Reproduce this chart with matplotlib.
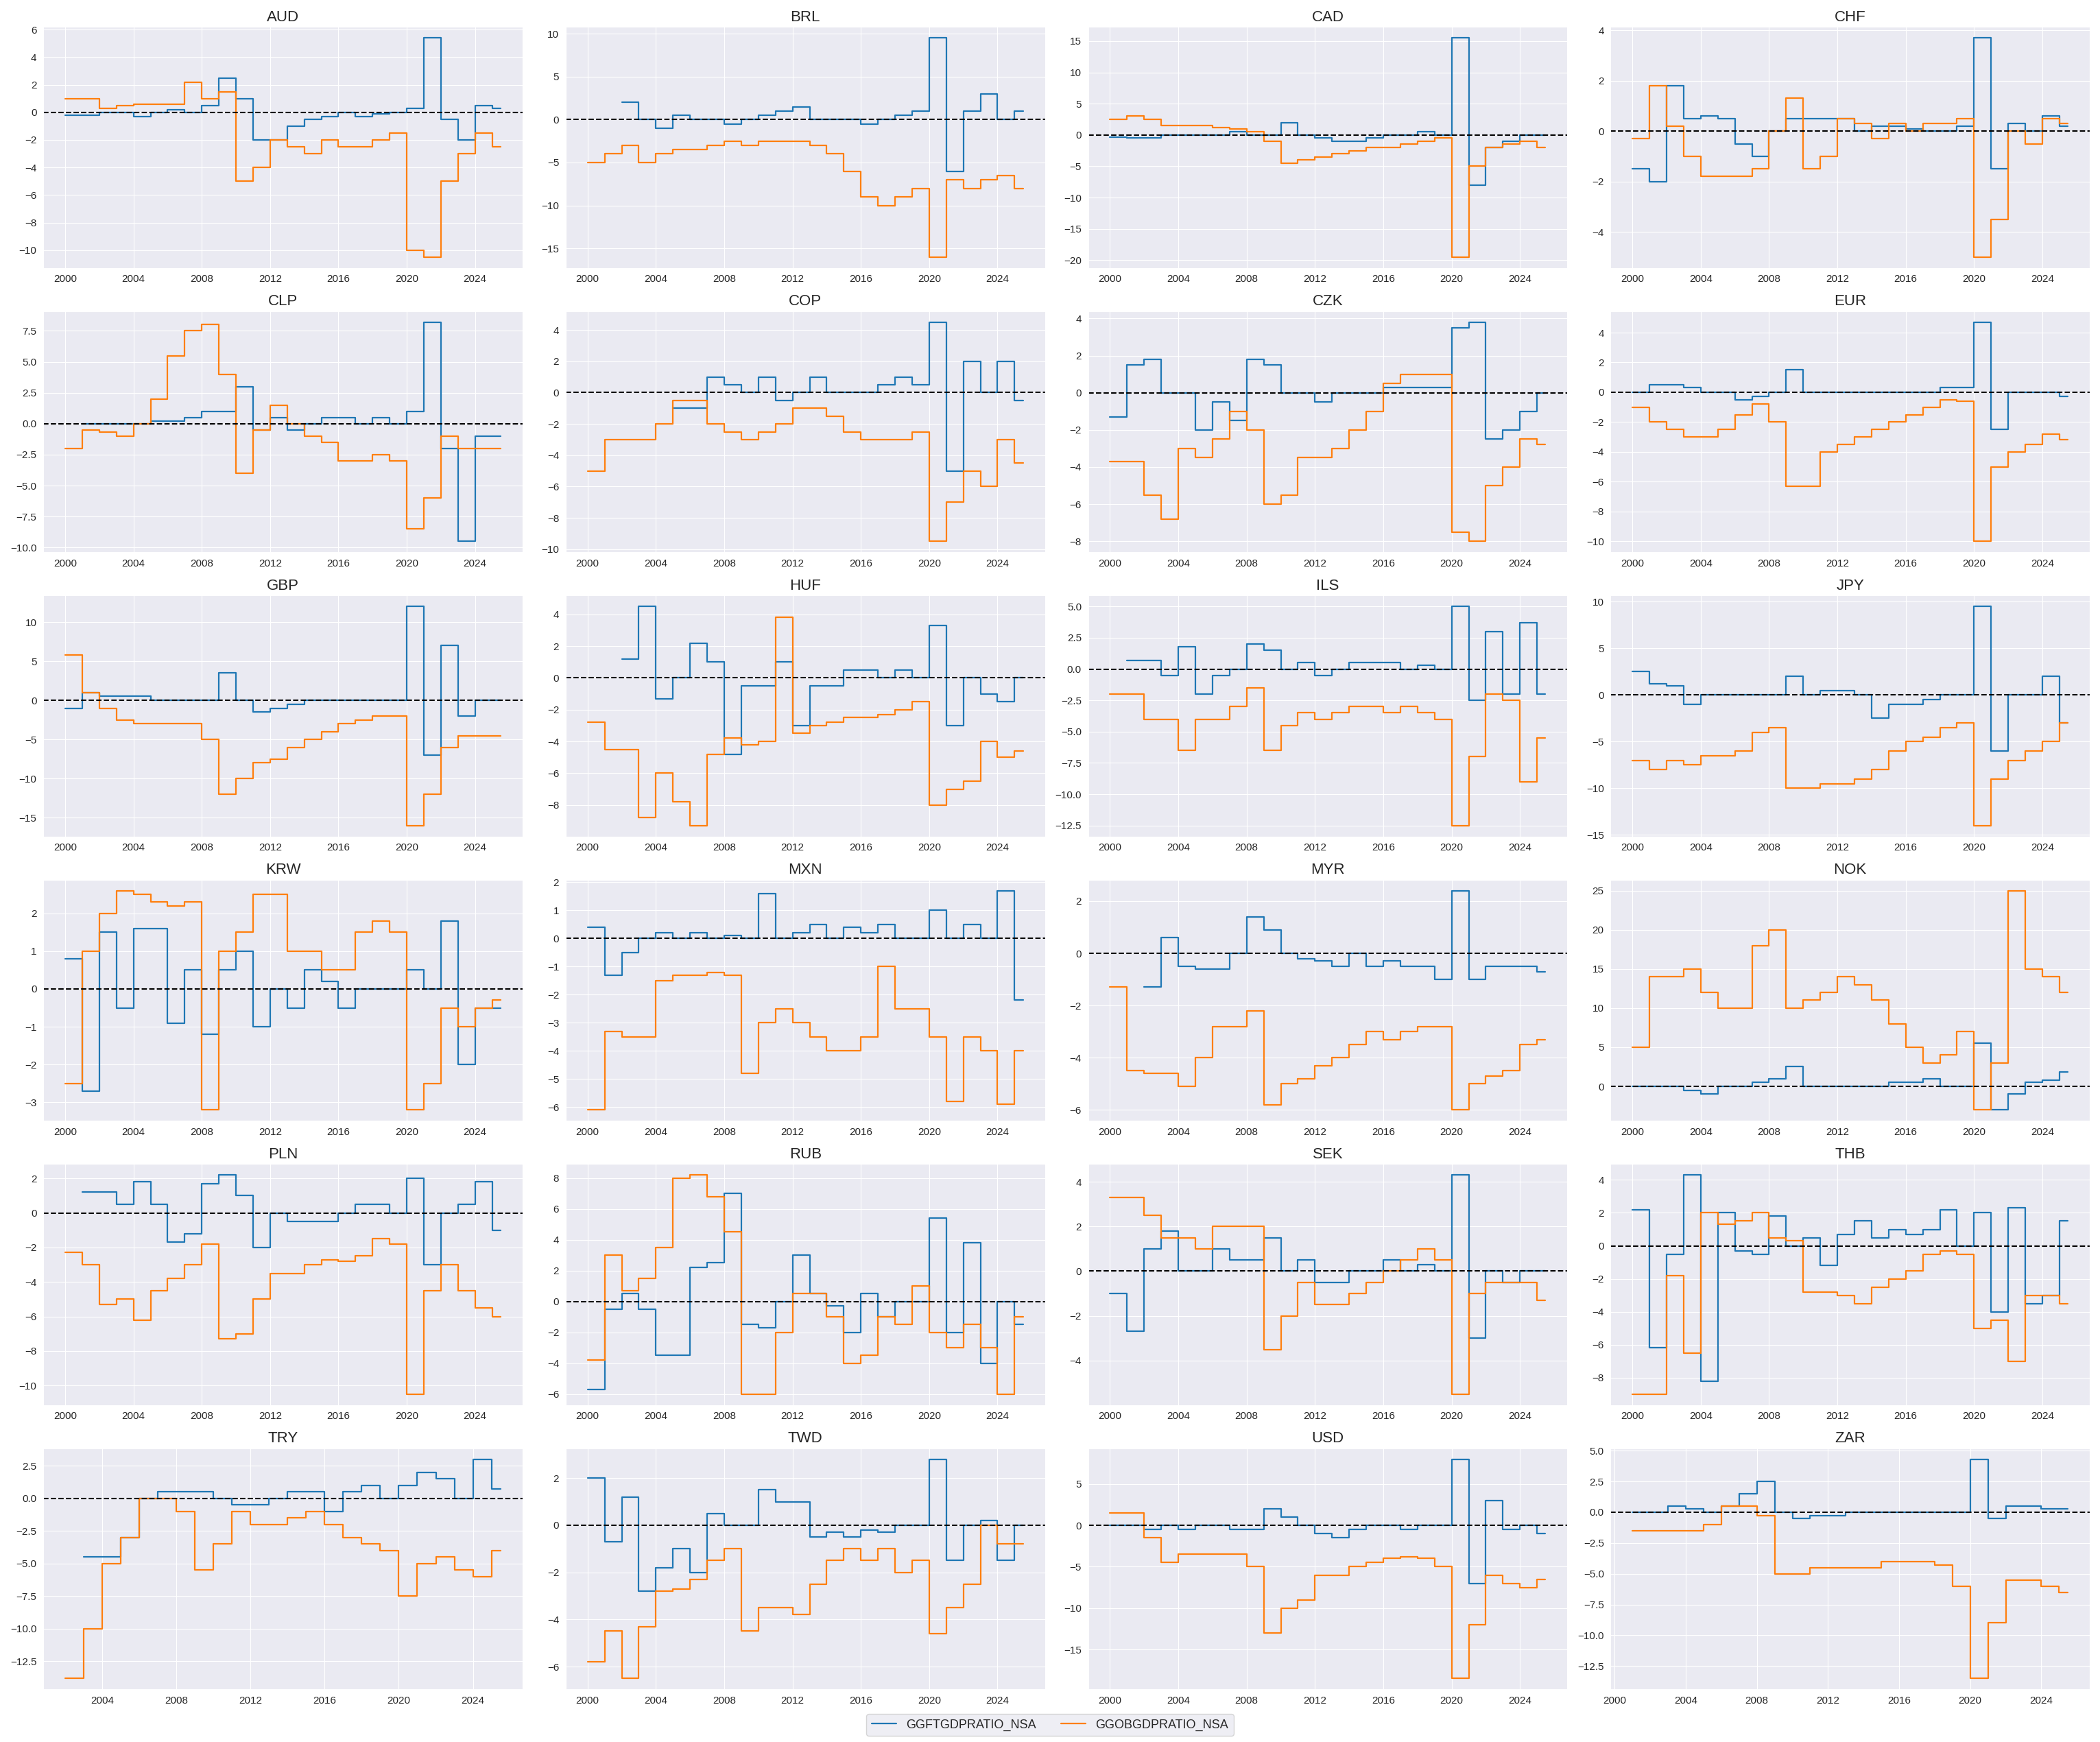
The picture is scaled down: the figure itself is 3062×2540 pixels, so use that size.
"""
Fiscal balance ratios by currency area: GGFTGDPRATIO_NSA vs GGOBGDPRATIO_NSA
"""

import numpy as np
import pandas as pd
import matplotlib.pyplot as plt
import matplotlib.dates as mdates
import seaborn as sns

nan = np.nan
YEARS = list(range(2000, 2026))

# yearly step values 2000..2025
AUD_FT = [-0.2, -0.2, 0, 0, -0.3, 0, 0.2, 0, 0.5, 2.5, 1, -2, -2, -1, -0.5, -0.3, 0, -0.3, -0.1, 0, 0.3, 5.4, -0.5, -2, 0.5, 0.3]
AUD_OB = [1, 1, 0.3, 0.5, 0.6, 0.6, 0.6, 2.2, 1, 1.5, -5, -4, -2, -2.5, -3, -2, -2.5, -2.5, -2, -1.5, -10, -10.5, -5, -3, -1.5, -2.5]
BRL_FT = [nan, nan, 2, 0, -1, 0.5, 0, 0, -0.5, 0, 0.5, 1, 1.5, 0, 0, 0, -0.5, 0, 0.5, 1, 9.5, -6, 1, 3, 0, 1]
BRL_OB = [-5, -4, -3, -5, -4, -3.5, -3.5, -3, -2.5, -3, -2.5, -2.5, -2.5, -3, -4, -6, -9, -10, -9, -8, -16, -7, -8, -7, -6.5, -8]
CAD_FT = [-0.3, -0.5, -0.5, 0, 0, 0, 0, 0.5, 0, 0, 2, 0, -0.5, -1, -1, -0.5, 0, 0, 0.5, 0, 15.5, -8, -2, -1, 0, 0]
CAD_OB = [2.5, 3, 2.5, 1.5, 1.5, 1.5, 1.2, 1, 0.5, -1, -4.5, -4, -3.5, -3, -2.5, -2, -2, -1.5, -1, -0.5, -19.5, -5, -2, -1.5, -1, -2]
CHF_FT = [-1.5, -2, 1.8, 0.5, 0.6, 0.5, -0.5, -1, 0, 0.5, 0.5, 0.5, 0.5, 0, 0.2, 0.2, 0.1, 0, 0, 0.2, 3.7, -1.5, 0.3, 0, 0.6, 0.2]
CHF_OB = [-0.3, 1.8, 0.2, -1, -1.8, -1.8, -1.8, -1.5, 0, 1.3, -1.5, -1, 0.5, 0.3, -0.3, 0.3, 0, 0.3, 0.3, 0.5, -5, -3.5, 0, -0.5, 0.5, 0.3]
CLP_FT = [nan, 0, 0, 0, 0, 0.2, 0.2, 0.5, 1, 1, 3, -0.5, 0.5, -0.5, 0, 0.5, 0.5, 0, 0.5, 0, 1, 8.2, -2, -9.5, -1, -1]
CLP_OB = [-2, -0.5, -0.7, -1, 0, 2, 5.5, 7.5, 8, 4, -4, -0.5, 1.5, 0, -1, -1.5, -3, -3, -2.5, -3, -8.5, -6, -1, -2, -2, -2]
COP_FT = [nan, nan, nan, nan, nan, -1, -1, 1, 0.5, 0, 1, -0.5, 0, 1, 0, 0, 0, 0.5, 1, 0.5, 4.5, -5, 2, 0, 2, -0.5]
COP_OB = [-5, -3, -3, -3, -2, -0.5, -0.5, -2, -2.5, -3, -2.5, -2, -1, -1, -1.5, -2.5, -3, -3, -3, -2.5, -9.5, -7, -5, -6, -3, -4.5]
CZK_FT = [-1.3, 1.5, 1.8, 0, 0, -2, -0.5, -1.5, 1.8, 1.5, 0, 0, -0.5, 0, 0, 0, 0.3, 0.3, 0.3, 0.3, 3.5, 3.8, -2.5, -2, -1, 0]
CZK_OB = [-3.7, -3.7, -5.5, -6.8, -3, -3.5, -2.5, -1, -2, -6, -5.5, -3.5, -3.5, -3, -2, -1, 0.5, 1, 1, 1, -7.5, -8, -5, -4, -2.5, -2.8]
EUR_FT = [0, 0.5, 0.5, 0.3, 0, 0, -0.5, -0.3, 0, 1.5, 0, 0, 0, 0, 0, 0, 0, 0, 0.3, 0.3, 4.7, -2.5, 0, 0, 0, -0.3]
EUR_OB = [-1, -2, -2.5, -3, -3, -2.5, -1.5, -0.8, -2, -6.3, -6.3, -4, -3.5, -3, -2.5, -2, -1.5, -1, -0.5, -0.6, -10, -5, -4, -3.5, -2.8, -3.2]
GBP_FT = [-1, 1, 0.5, 0.5, 0.5, 0, 0, 0, 0, 3.5, 0, -1.5, -1, -0.5, 0, 0, 0, 0, 0, 0, 12, -7, 7, -2, 0, 0]
GBP_OB = [5.8, 1, -1, -2.5, -3, -3, -3, -3, -5, -12, -10, -8, -7.5, -6, -5, -4, -3, -2.5, -2, -2, -16, -12, -6, -4.5, -4.5, -4.5]
HUF_FT = [nan, nan, 1.2, 4.5, -1.3, 0, 2.2, 1, -4.8, -0.5, -0.5, 1, -3, -0.5, -0.5, 0.5, 0.5, 0, 0.5, 0, 3.3, -3, 0, -1, -1.5, 0]
HUF_OB = [-2.8, -4.5, -4.5, -8.8, -6, -7.8, -9.3, -4.8, -3.8, -4.2, -4, 3.8, -3.5, -3, -2.8, -2.5, -2.5, -2.3, -2, -1.5, -8, -7, -6.5, -4, -5, -4.6]
ILS_FT = [nan, 0.7, 0.7, -0.5, 1.8, -2, -0.5, 0, 2, 1.5, 0, 0.5, -0.5, 0, 0.5, 0.5, 0.5, 0, 0.3, 0, 5, -2.5, 3, -2, 3.7, -2]
ILS_OB = [-2, -2, -4, -4, -6.5, -4, -4, -3, -1.5, -6.5, -4.5, -3.5, -4, -3.5, -3, -3, -3.5, -3, -3.5, -4, -12.5, -7, -2, -2.5, -9, -5.5]
JPY_FT = [2.5, 1.2, 1, -1, 0, 0, 0, 0, 0, 2, 0, 0.5, 0.5, 0, -2.5, -1, -1, -0.5, 0, 0, 9.5, -6, 0, 0, 2, -3]
JPY_OB = [-7, -8, -7, -7.5, -6.5, -6.5, -6, -4, -3.5, -10, -10, -9.5, -9.5, -9, -8, -6, -5, -4.5, -3.5, -3, -14, -9, -7, -6, -5, -3]
KRW_FT = [0.8, -2.7, 1.5, -0.5, 1.6, 1.6, -0.9, 0.5, -1.2, 0.5, 1, -1, 0, -0.5, 0.5, 0.2, -0.5, 0, 0, 0, 0.5, 0, 1.8, -2, -0.5, -0.5]
KRW_OB = [-2.5, 1, 2, 2.6, 2.5, 2.3, 2.2, 2.3, -3.2, 1, 1.5, 2.5, 2.5, 1, 1, 0.5, 0.5, 1.5, 1.8, 1.5, -3.2, -2.5, -0.5, -1, -0.5, -0.3]
MXN_FT = [0.4, -1.3, -0.5, 0, 0.2, 0, 0.2, 0, 0.1, 0, 1.6, 0, 0.2, 0.5, 0, 0.4, 0.2, 0.5, 0, 0, 1, 0, 0.5, 0, 1.7, -2.2]
MXN_OB = [-6.1, -3.3, -3.5, -3.5, -1.5, -1.3, -1.3, -1.2, -1.3, -4.8, -3, -2.5, -3, -3.5, -4, -4, -3.5, -1, -2.5, -2.5, -3.5, -5.8, -3.5, -4, -5.9, -4]
MYR_FT = [nan, nan, -1.3, 0.6, -0.5, -0.6, -0.6, 0, 1.4, 0.9, 0, -0.2, -0.3, -0.5, 0, -0.5, -0.3, -0.5, -0.5, -1, 2.4, -1, -0.5, -0.5, -0.5, -0.7]
MYR_OB = [-1.3, -4.5, -4.6, -4.6, -5.1, -4, -2.8, -2.8, -2.2, -5.8, -5, -4.8, -4.3, -4, -3.5, -3, -3.3, -3, -2.8, -2.8, -6, -5, -4.7, -4.5, -3.5, -3.3]
NOK_FT = [0, 0, 0, -0.5, -1, 0, 0, 0.5, 1, 2.5, 0, 0, 0, 0, 0, 0.5, 0.5, 1, 0, 0, 5.5, -3, -1, 0.5, 0.8, 1.8]
NOK_OB = [5, 14, 14, 15, 12, 10, 10, 18, 20, 10, 11, 12, 14, 13, 11, 8, 5, 3, 4, 7, -3, 3, 25, 15, 14, 12]
PLN_FT = [nan, 1.2, 1.2, 0.5, 1.8, 0.5, -1.7, -1.2, 1.7, 2.2, 1, -2, 0, -0.5, -0.5, -0.5, 0, 0.5, 0.5, 0, 2, -3, 0, 0.5, 1.8, -1]
PLN_OB = [-2.3, -3, -5.3, -5, -6.2, -4.5, -3.8, -3, -1.8, -7.3, -7, -5, -3.5, -3.5, -3, -2.7, -2.8, -2.5, -1.5, -1.8, -10.5, -4.5, -3, -4.5, -5.5, -6]
RUB_FT = [-5.7, -0.5, 0.5, -0.5, -3.5, -3.5, 2.2, 2.5, 7, -1.5, -1.7, 0, 3, 0.5, -0.3, -2, 0.5, -1, 0, 0, 5.4, -2, 3.8, -4, 0, -1.5]
RUB_OB = [-3.8, 3, 0.7, 1.5, 3.5, 8, 8.2, 6.8, 4.5, -6, -6, -2, 0.5, 0.5, -1, -4, -3.5, -1, -1.5, 1, -2, -3, -1.5, -3, -6, -1]
SEK_FT = [-1, -2.7, 1, 1.8, 0, 0, 1, 0.5, 0.5, 1.5, 0, 0.5, -0.5, -0.5, 0, 0, 0.5, 0, 0.3, 0, 4.3, -3, 0, -0.5, 0, 0]
SEK_OB = [3.3, 3.3, 2.5, 1.5, 1.5, 1, 2, 2, 2, -3.5, -2, -0.5, -1.5, -1.5, -1, -0.5, 0, 0.5, 1, 0.5, -5.5, -1, -0.5, -0.5, -0.5, -1.3]
THB_FT = [2.2, -6.2, -0.5, 4.3, -8.2, 2, -0.3, -0.5, 1.8, 0, 0.5, -1.2, 0.7, 1.5, 0.5, 1, 0.7, 1, 2.2, 0, 2, -4, 2.3, -3.5, -3, 1.5]
THB_OB = [-9, -9, -1.8, -6.5, 2, 1.3, 1.5, 2, 0.5, 0.3, -2.8, -2.8, -3, -3.5, -2.5, -2, -1.5, -0.5, -0.3, -0.5, -5, -4.5, -7, -3, -3, -3.5]
TRY_FT = [nan, nan, nan, -4.5, -4.5, -3, 0, 0.5, 0.5, 0.5, 0, -0.5, -0.5, 0, 0.5, 0.5, -1, 0.5, 1, 0, 1, 2, 1.5, 0, 3, 0.7]
TRY_OB = [nan, nan, -13.8, -10, -5, -3, 0, 0, -1, -5.5, -3.5, -1, -2, -2, -1.5, -1, -2, -3, -3.5, -4, -7.5, -5, -4.5, -5.5, -6, -4]
TWD_FT = [2, -0.7, 1.2, -2.8, -1.8, -1, -2, 0.5, 0, 0, 1.5, 1, 1, -0.5, -0.3, -0.5, -0.2, -0.3, 0, 0, 2.8, -1.5, 0, 0.2, -1.5, 0]
TWD_OB = [-5.8, -4.5, -6.5, -4.3, -2.8, -2.7, -2.3, -1.5, -1, -4.5, -3.5, -3.5, -3.8, -2.5, -1.5, -1, -1.5, -1, -2, -1.5, -4.6, -3.5, -2.5, 0, -0.8, -0.8]
USD_FT = [0, 0, -0.5, 0, -0.5, 0, 0, -0.5, -0.5, 2, 1, 0, -1, -1.5, -0.5, 0, 0, -0.5, 0, 0, 8, -7, 3, -0.5, 0, -1]
USD_OB = [1.5, 1.5, -1.5, -4.5, -3.5, -3.5, -3.5, -3.5, -5, -13, -10, -9, -6, -6, -5, -4.5, -4, -3.8, -4, -5, -18.5, -12, -6, -7, -7.5, -6.5]
ZAR_FT = [nan, 0, 0, 0.5, 0.3, 0, 0.5, 1.5, 2.5, 0, -0.5, -0.3, -0.3, 0, 0, 0, 0, 0, 0, 0, 4.3, -0.5, 0.5, 0.5, 0.3, 0.3]
ZAR_OB = [nan, -1.5, -1.5, -1.5, -1.5, -1, 0.5, 0.5, -0.3, -5, -5, -4.5, -4.5, -4.5, -4.5, -4, -4, -4, -4.3, -6, -13.5, -9, -5.5, -5.5, -6, -6.5]

CURRENCIES = ["AUD", "BRL", "CAD", "CHF", "CLP", "COP", "CZK", "EUR",
              "GBP", "HUF", "ILS", "JPY", "KRW", "MXN", "MYR", "NOK",
              "PLN", "RUB", "SEK", "THB", "TRY", "TWD", "USD", "ZAR"]
SERIES = ["GGFTGDPRATIO_NSA", "GGOBGDPRATIO_NSA"]


def main():
    sns.set_style("darkgrid", {"font.sans-serif": ["Liberation Sans", "DejaVu Sans"]})
    plt.rcParams["font.family"] = "sans-serif"
    plt.rcParams["font.sans-serif"] = ["Liberation Sans", "DejaVu Sans"]
    dates = pd.to_datetime([f"{y}-01-01" for y in YEARS] + ["2025-07-01"])
    g = globals()

    fig, axes = plt.subplots(6, 4, figsize=(30.62, 25.4), dpi=100)
    for ax, cid in zip(axes.flat, CURRENCIES):
        for key, color, name in [("FT", "#1f77b4", SERIES[0]), ("OB", "#ff7f0e", SERIES[1])]:
            vals = g[f"{cid}_{key}"]
            vals = vals + [vals[-1]]
            ax.plot(dates, vals, drawstyle="steps-post", color=color, lw=1.6, label=name)
        ax.axhline(0, color="black", ls="--", lw=1.5)
        ax.set_title(cid, fontsize=16)
        ax.xaxis.set_major_locator(mdates.YearLocator(4))
        ax.xaxis.set_major_formatter(mdates.DateFormatter("%Y"))
        ax.tick_params(labelsize=11)

    handles, labels = axes.flat[0].get_legend_handles_labels()
    fig.legend(handles, labels, loc="lower center", ncol=2, fontsize=13,
               bbox_to_anchor=(0.5, 0.0), frameon=True)
    plt.tight_layout(rect=(0, 0.015, 1, 1))
    plt.savefig("out.png", dpi=100)


if __name__ == '__main__':
    main()
